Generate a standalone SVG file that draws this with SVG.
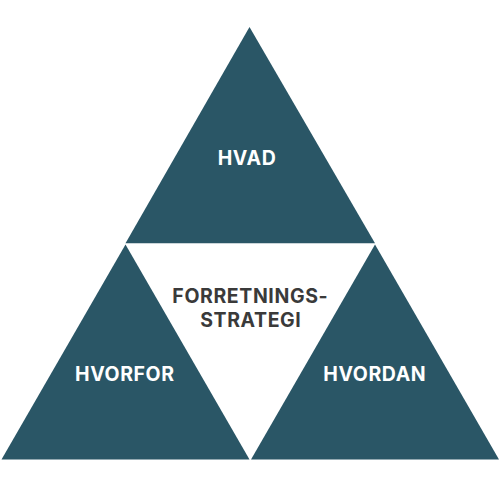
<svg xmlns="http://www.w3.org/2000/svg" width="500" height="500" viewBox="0 0 500 500">
<style>
.tri{fill:#2a5666}
.lbl{font-family:Inter,"Open Sans","DejaVu Sans",sans-serif;font-weight:700;font-size:19.5px;letter-spacing:0.6px;text-anchor:middle}
.w{fill:#ffffff}
.d{fill:#3a3a3a}
</style>
<rect width="500" height="500" fill="#ffffff"/>
<g id="hvad">
<polygon class="tri" points="249.5,27 375,243.3 125.5,243.3"/>
<text class="lbl w" x="247" y="165">HVAD</text>
</g>
<g id="hvorfor">
<polygon class="tri" points="125.5,244.5 249.5,459.5 1.5,459.5"/>
<text class="lbl w" x="124.8" y="381">HVORFOR</text>
</g>
<g id="hvordan">
<polygon class="tri" points="375,244.5 499,459.5 251,459.5"/>
<text class="lbl w" x="374.8" y="381">HVORDAN</text>
</g>
<g id="forretningsstrategi">
<text class="lbl d" x="250.3" y="303">FORRETNINGS-</text>
<text class="lbl d" x="250.8" y="327">STRATEGI</text>
</g>
<g id="connectors"></g>
</svg>
